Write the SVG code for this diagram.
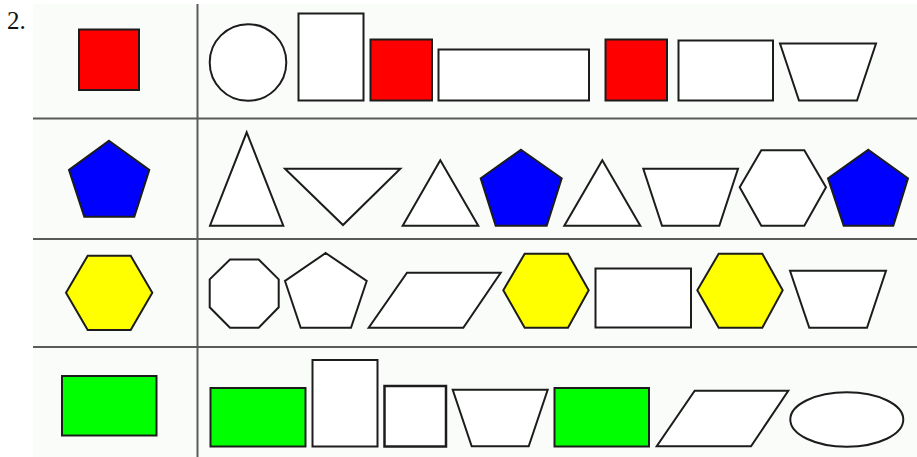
<svg xmlns="http://www.w3.org/2000/svg" width="917" height="457" viewBox="0 0 917 457">
<style>
.s{stroke:#1c1c1c;stroke-width:2;stroke-linejoin:miter;fill:#ffffff}
.r{fill:#ff0000}.b{fill:#0000ff}.y{fill:#ffff00}.g{fill:#00ff00}
.grid{stroke:#5a5a5a;stroke-width:2;fill:none}
.num{font-family:"Liberation Serif",serif;font-size:25px;fill:#111}
</style>
<rect x="0" y="0" width="917" height="457" fill="#ffffff"/>
<rect x="33" y="4" width="884" height="453" fill="#fafcfa"/>
<g id="grid" class="grid">
<line x1="197.5" y1="4" x2="197.5" y2="457"/>
<line x1="33" y1="118.5" x2="917" y2="118.5"/>
<line x1="33" y1="239" x2="917" y2="239"/>
<line x1="33" y1="347" x2="917" y2="347"/>
</g>
<text class="num" x="7" y="29">2.</text>
<g id="row1">
<rect id="r1key" class="s r" x="79" y="29.5" width="60" height="60.5"/>
<circle id="r1a" class="s" cx="248" cy="62.5" r="38.3"/>
<rect id="r1b" class="s" x="298.5" y="13.5" width="65" height="87"/>
<rect id="r1c" class="s r" x="370.5" y="39.5" width="61.5" height="61"/>
<rect id="r1d" class="s" x="438.5" y="49.5" width="150.5" height="51"/>
<rect id="r1e" class="s r" x="605.5" y="39.5" width="61.5" height="61"/>
<rect id="r1f" class="s" x="678.5" y="40.5" width="94.5" height="60"/>
<polygon id="r1g" class="s" points="780,43.5 876,43.5 857,100.5 799,100.5"/>
</g>
<g id="row2">
<polygon id="r2key" class="s b" points="109,140.7 149.3,170 134.3,216.7 84.3,216.7 69,170"/>
<polygon id="r2a" class="s" points="246.7,132.3 283.3,225.7 210,225.7"/>
<polygon id="r2b" class="s" points="285,168.7 400.3,168.7 343,225"/>
<polygon id="r2c" class="s" points="440.3,160.3 478.3,225.7 402.7,225.7"/>
<polygon id="r2d" class="s b" points="521,149.7 561.7,178.3 546.7,225.7 495.7,225.7 480.7,178.3"/>
<polygon id="r2e" class="s" points="602.3,160.3 640.3,225.7 564.3,225.7"/>
<polygon id="r2f" class="s" points="643.3,168.7 738,168.7 719.3,225.7 662,225.7"/>
<polygon id="r2g" class="s" points="761.3,150.3 804.3,150.3 826,187.3 804.3,225.7 761.3,225.7 739.7,187.3"/>
<polygon id="r2h" class="s b" points="868.3,149.7 908,178.3 893.3,225.7 843.7,225.7 828,178.3"/>
</g>
<g id="row3">
<polygon id="r3key" class="s y" points="87.7,255.7 130.7,255.7 152.3,292.7 130.7,330 87.7,330 66,292.7"/>
<polygon id="r3a" class="s" points="230,259.5 258.7,259.5 278.7,279.3 278.7,307.3 258.7,327.7 230,327.7 209.7,307.3 209.7,279.3"/>
<polygon id="r3b" class="s" points="325.7,253 366.7,281 351,327.7 300.7,327.7 285,281"/>
<polygon id="r3c" class="s" points="407,272.7 500.7,272.7 463.3,327.7 368.7,327.7"/>
<polygon id="r3d" class="s y" points="524.7,253.7 568,253.7 588.7,290.3 568,327.7 524.7,327.7 503.3,290.3"/>
<rect id="r3e" class="s" x="595.5" y="268.5" width="95.5" height="59"/>
<polygon id="r3f" class="s y" points="718.7,253.7 762.3,253.7 782.7,290.3 762.3,327.7 718.7,327.7 697.3,290.3"/>
<polygon id="r3g" class="s" points="790,270.7 886,270.7 867,327.7 809.3,327.7"/>
</g>
<g id="row4">
<rect id="r4key" class="s g" x="62" y="376" width="94.5" height="59.5"/>
<rect id="r4a" class="s g" x="210.5" y="388" width="95" height="58.5"/>
<rect id="r4b" class="s" x="312.5" y="360" width="65" height="86.5"/>
<rect id="r4c" class="s" x="384.5" y="386" width="61.5" height="60.5" style="stroke-width:2.5"/>
<polygon id="r4d" class="s" points="452.7,389.7 547.7,389.7 528.7,446.3 471.7,446.3"/>
<rect id="r4e" class="s g" x="554.5" y="388" width="94.5" height="58.5"/>
<polygon id="r4f" class="s" points="694.7,390.7 788.3,390.7 751,446.3 656.7,446.3"/>
<ellipse id="r4g" class="s" cx="846.8" cy="419.5" rx="56.5" ry="27.2"/>
</g>
</svg>
